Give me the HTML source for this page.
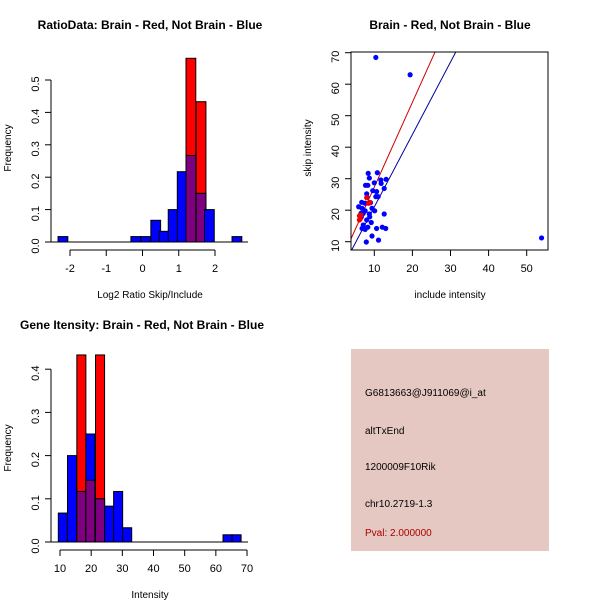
<!DOCTYPE html>
<html><head><meta charset="utf-8"><style>
body{margin:0;background:#fff}
svg{display:block;font-family:"Liberation Sans",sans-serif}
</style></head><body>
<svg id="c" width="600" height="600" viewBox="0 0 600 600"></svg>
<script>
// ---- data: ratio histogram
const ratioEdges = [-2.33,-0.32,-0.05,0.23,0.46,0.71,0.96,1.2,1.48,1.71,2.47];
const ratioBlue  = [0.0167,0.0167,0.0167,0.067,0.033,0.1,0.217,0.267,0.15,0.1,0.0167];
const ratioRed   = [0,0,0,0,0,0,0,0.567,0.433,0,0];
const ratioWidth = 0.27;
const ratioXTicks = [-2,-1,0,1,2];
const ratioYTicks = [0,0.1,0.2,0.3,0.4,0.5];
// ---- data: intensity histogram
const intEdges = [9.46,12.4,15.4,18.3,21.4,24.3,27.2,30.1,62.3,65.2];
const intBlue  = [0.067,0.2,0.117,0.25,0.1,0.083,0.117,0.033,0.0167,0.0167];
const intRed   = [0,0,0.433,0.143,0.433,0,0,0,0,0];
const intWidth = 2.9;
const intXTicks = [10,20,30,40,50,60,70];
const intYTicks = [0,0.1,0.2,0.3,0.4];
// ---- data: scatter
const blueX = [10.4,19.4,53.9,8.4,10.8,8.7,7.7,8.3,10,11.8,11.7,13.1,12.6,8,9.6,10.6,10.4,11,8.1,6.7,7.6,9,5.9,6.8,9.4,10.1,7.6,8.7,6.5,12.6,9.2,8,7.1,6.8,7.6,8.3,10.6,12.1,13,9.4,7.9,11.1,6.6,7.1,8.8];
const blueY = [68.5,63,11.2,31.7,31.9,30.2,27.9,27.9,28.7,28.5,29.6,29.8,26.9,25.2,26.2,25.9,24.3,24.3,24.1,22.5,22.2,22.4,21.1,20.6,20.6,19.8,19.8,18.8,19,18.8,16.1,16.9,15.3,14.2,13.9,14.6,14.2,14.6,14.2,11.8,9.9,10.5,17.9,19,17.9];
const redX = [6.1,6.5,6.3,8.5,8.8,8,6.1];
const redY = [18.2,18.5,17.2,22.2,22.4,24,16.9];
const redLine = [0.45,2.69];   // intercept, slope
const blueLine = [-1.97,2.30];
const scXTicks = [10,20,30,40,50];
const scYTicks = [10,20,30,40,50,60,70];

const svg=document.getElementById('c');
const NS='http://www.w3.org/2000/svg';
function mk(tag,attrs,name,parent){const e=document.createElementNS(NS,tag);for(const k in attrs)e.setAttribute(k,attrs[k]);


(parent||svg).appendChild(e);return e;}
function txt(x,y,s,name,opt){opt=opt||{};const t=mk('text',{x:x,y:y,'font-size':opt.size||11,'text-anchor':opt.anchor||'middle',fill:opt.fill||'#000','font-weight':opt.bold?'bold':'normal'},name);
if(opt.rot)t.setAttribute('transform','rotate(-90 '+x+' '+y+')');t.textContent=s;return t;}

function hist(o){
  const sx=v=>o.x0px+(v-o.x0)*o.xs, sy=v=>o.y0px-v*o.ys;
  const g=mk('g',{},o.name);
  o.edges.forEach((e,i)=>{
    const x=sx(e),w=o.w*o.xs;
    if(o.red[i]>0){const r=mk('rect',{x:x,y:sy(o.red[i]),width:w,height:o.red[i]*o.ys,fill:'#ff0000',stroke:'#000','stroke-width':1},g);
      }
    const b=mk('rect',{x:x,y:sy(o.blue[i]),width:w,height:o.blue[i]*o.ys,fill:'#0000ff',stroke:'#000','stroke-width':1},g);
    
    if(o.red[i]>0){const m=Math.min(o.red[i],o.blue[i]);const p=mk('rect',{x:x,y:sy(m),width:w,height:m*o.ys,fill:'#7f007f',stroke:'#000','stroke-width':1},g);
      }
  });
  mk('line',{x1:o.axL,x2:o.axR,y1:o.y0px,y2:o.y0px,stroke:'#000'},'baseline');
  // y axis
  const yt=o.yticks;
  mk('line',{x1:o.yAxX,x2:o.yAxX,y1:sy(yt[0]),y2:sy(yt[yt.length-1]),stroke:'#000'},'y-axis');
  yt.forEach(v=>{mk('line',{x1:o.yAxX-6,x2:o.yAxX,y1:sy(v),y2:sy(v),stroke:'#000'},'y-tick');
    txt(o.yAxX-12,sy(v)+4,v.toFixed(1),'y-tick-label',{rot:1});});
  const xt=o.xticks,ay=o.y0px+8;
  mk('line',{x1:sx(xt[0]),x2:sx(xt[xt.length-1]),y1:ay,y2:ay,stroke:'#000'},'x-axis');
  xt.forEach(v=>{mk('line',{x1:sx(v),x2:sx(v),y1:ay,y2:ay+6,stroke:'#000'},'x-tick');
    txt(sx(v),ay+22,String(v),'x-tick-label');});
}
// panel 1
hist({name:'ratio-histogram',edges:ratioEdges,blue:ratioBlue,red:ratioRed,w:ratioWidth,x0:-2,x0px:70,xs:36.25,y0px:242,ys:324,
  axL:51,axR:248,yAxX:51,yticks:ratioYTicks,xticks:ratioXTicks});
txt(150,29,'RatioData: Brain - Red, Not Brain - Blue','ratio-title',{bold:1,size:12});
txt(150,298,'Log2 Ratio Skip/Include','ratio-x-title',{size:10});
txt(11,148,'Frequency','ratio-y-title',{rot:1,size:10});
// panel 3
hist({name:'intensity-histogram',edges:intEdges,blue:intBlue,red:intRed,w:intWidth,x0:10,x0px:60,xs:3.117,y0px:542,ys:432,
  axL:51,axR:248,yAxX:51,yticks:intYTicks,xticks:intXTicks});
txt(142,329,'Gene Itensity: Brain - Red, Not Brain - Blue','intensity-title',{bold:1,size:12});
txt(150,598,'Intensity','intensity-x-title',{size:10});
txt(11,448,'Frequency','intensity-y-title',{rot:1,size:10});
// panel 2 scatter
(function(){
  const L=351,R=548,T=52,B=250;
  const sx=v=>374.3+(v-10)*3.81, sy=v=>241.7-(v-10)*3.15;
  const defs=mk('clipPath',{id:'clp'},'clip');mk('rect',{x:L,y:T,width:R-L,height:B-T},'clip-rect',defs);
  const g=mk('g',{'clip-path':'url(#clp)'},'scatter-plot');
  [[redLine,'#cc0000','red-fit-line'],[blueLine,'#000099','blue-fit-line']].forEach(([p,c,n])=>{
    const xa=0,xb=60;mk('line',{x1:sx(xa),y1:sy(p[0]+p[1]*xa),x2:sx(xb),y2:sy(p[0]+p[1]*xb),stroke:c,'stroke-width':1},n,g);});
  blueX.forEach((x,i)=>mk('circle',{cx:sx(x),cy:sy(blueY[i]),r:2.6,fill:'#0000ff'},'blue-point',g));
  redX.forEach((x,i)=>mk('circle',{cx:sx(x),cy:sy(redY[i]),r:2.6,fill:'#ee0000'},'red-point',g));
  mk('rect',{x:L,y:T,width:R-L,height:B-T,fill:'none',stroke:'#000'},'plot-frame');
  scXTicks.forEach(v=>{mk('line',{x1:sx(v),x2:sx(v),y1:B,y2:B+6,stroke:'#000'},'x-tick');txt(sx(v),B+22,String(v),'x-tick-label');});
  scYTicks.forEach(v=>{mk('line',{x1:L-6,x2:L,y1:sy(v),y2:sy(v),stroke:'#000'},'y-tick');txt(L-12,sy(v)+4,String(v),'y-tick-label',{rot:1});});
  txt(450,29,'Brain - Red, Not Brain - Blue','scatter-title',{bold:1,size:12});
  txt(450,298,'include intensity','scatter-x-title',{size:10});
  txt(311,148,'skip intensity','scatter-y-title',{rot:1,size:10});
})();
// info panel
mk('rect',{x:351,y:349,width:198,height:202,fill:'#e5c8c1'},'info-panel');
txt(365,396,'G6813663@J911069@i_at','probe-id',{anchor:'start',size:10});
txt(365,434,'altTxEnd','event-type',{anchor:'start',size:10});
txt(365,470,'1200009F10Rik','gene-name',{anchor:'start',size:10});
txt(365,507,'chr10.2719-1.3','location',{anchor:'start',size:10});
txt(365,536,'Pval: 2.000000','pvalue',{anchor:'start',size:10,fill:'#aa0000'});
</script>
</body></html>
